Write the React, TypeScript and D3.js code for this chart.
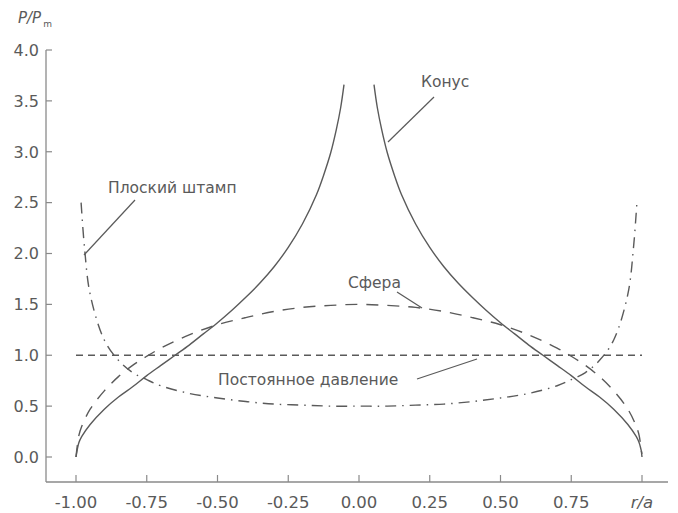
import * as d3 from "d3";
import React, {useEffect, useRef} from "react";

// r/a positions and P/Pm values
const coneLeftR = [-1.0, -0.99, -0.98, -0.95, -0.9, -0.85, -0.8, -0.75, -0.7, -0.65, -0.6, -0.55, -0.5, -0.45, -0.4, -0.35, -0.3, -0.25, -0.2, -0.15, -0.125, -0.1, -0.08, -0.065, -0.053];
const coneLeftP = [0.0, 0.14, 0.2, 0.32, 0.47, 0.59, 0.69, 0.8, 0.9, 1.0, 1.1, 1.21, 1.32, 1.44, 1.57, 1.71, 1.87, 2.06, 2.29, 2.58, 2.77, 2.99, 3.22, 3.43, 3.66];
const coneRightR = [0.053, 0.065, 0.08, 0.1, 0.125, 0.15, 0.2, 0.25, 0.3, 0.35, 0.4, 0.45, 0.5, 0.55, 0.6, 0.65, 0.7, 0.75, 0.8, 0.85, 0.9, 0.95, 0.98, 0.99, 1.0];
const coneRightP = [3.66, 3.43, 3.22, 2.99, 2.77, 2.58, 2.29, 2.06, 1.87, 1.71, 1.57, 1.44, 1.32, 1.21, 1.1, 1.0, 0.9, 0.8, 0.69, 0.59, 0.47, 0.32, 0.2, 0.14, 0.03];

const sphereR = [-1.0, -0.99, -0.98, -0.95, -0.9, -0.85, -0.8, -0.75, -0.7, -0.6, -0.5, -0.4, -0.3, -0.2, -0.1, 0.0, 0.1, 0.2, 0.3, 0.4, 0.5, 0.6, 0.7, 0.75, 0.8, 0.85, 0.9, 0.95, 0.98, 0.99, 1.0];
const sphereP = [0.0, 0.21, 0.3, 0.47, 0.65, 0.79, 0.9, 0.99, 1.07, 1.2, 1.3, 1.37, 1.43, 1.47, 1.49, 1.5, 1.49, 1.47, 1.43, 1.37, 1.3, 1.2, 1.07, 0.99, 0.9, 0.79, 0.65, 0.47, 0.3, 0.21, 0.0];

const punchR = [-0.982, -0.97, -0.95, -0.9, -0.85, -0.8, -0.75, -0.7, -0.6, -0.5, -0.4, -0.3, -0.2, -0.1, 0.0, 0.1, 0.2, 0.3, 0.4, 0.5, 0.6, 0.7, 0.75, 0.8, 0.85, 0.9, 0.95, 0.97, 0.982];
const punchP = [2.5, 2.06, 1.6, 1.15, 0.95, 0.83, 0.76, 0.7, 0.625, 0.58, 0.545, 0.52, 0.51, 0.5, 0.5, 0.5, 0.51, 0.52, 0.545, 0.58, 0.625, 0.7, 0.76, 0.83, 0.95, 1.15, 1.6, 2.06, 2.5];

const constR = [-1.0, 1.0];
const constP = [1.0, 1.0];

const xTicks = [-1.0, -0.75, -0.5, -0.25, 0.0, 0.25, 0.5, 0.75, 1.0];
const yTicks = [0.0, 0.5, 1.0, 1.5, 2.0, 2.5, 3.0, 3.5, 4.0];

const INK = "#5a5a5a";
const FONT = "'DejaVu Sans', Arial, sans-serif";

const App: React.FC = () => {
  const svgRef = useRef<SVGSVGElement | null>(null);

  useEffect(() => {
    if (!svgRef.current) {
      return
    }
    const svg = d3.select(svgRef.current);
    svg.selectAll("*").remove();

    const x = d3.scaleLinear().domain([-1, 1]).range([76, 642]);
    const y = d3.scaleLinear().domain([0, 4]).range([457, 50]);
    const axisX = 46;
    const axisY = 482;

    const line = d3.line<[number, number]>()
      .x(d => x(d[0]))
      .y(d => y(d[1]))
      .curve(d3.curveCatmullRom.alpha(0.5));

    const zip = (rs: number[], ps: number[]) => rs.map((r, i) => [r, ps[i]] as [number, number]);

    // axes
    svg.append("line")
      .attr("x1", axisX).attr("x2", 668)
      .attr("y1", axisY).attr("y2", axisY)
      .attr("stroke", "#8a8a8a").attr("stroke-width", 1.3);
    svg.append("line")
      .attr("x1", axisX).attr("x2", axisX)
      .attr("y1", y(4)).attr("y2", axisY)
      .attr("stroke", "#8a8a8a").attr("stroke-width", 1.3);

    svg.selectAll(".xtick")
      .data(xTicks)
      .enter().append("line")
      .attr("x1", d => x(d)).attr("x2", d => x(d))
      .attr("y1", axisY).attr("y2", axisY - 7)
      .attr("stroke", "#8a8a8a").attr("stroke-width", 1.2);

    svg.selectAll(".xlabel")
      .data(xTicks.filter(d => d < 1))
      .enter().append("text")
      .attr("x", d => x(d))
      .attr("y", 508)
      .attr("text-anchor", "middle")
      .attr("font-family", FONT)
      .attr("font-size", 16.5)
      .attr("fill", INK)
      .text(d => d3.format(".2f")(d).replace("−", "-"));

    svg.append("text")
      .attr("x", x(1))
      .attr("y", 508)
      .attr("text-anchor", "middle")
      .attr("font-family", FONT)
      .attr("font-style", "italic")
      .attr("font-size", 16.5)
      .attr("fill", INK)
      .text("r/a");

    svg.selectAll(".ytick")
      .data(yTicks)
      .enter().append("line")
      .attr("x1", axisX).attr("x2", axisX + 6)
      .attr("y1", d => y(d)).attr("y2", d => y(d))
      .attr("stroke", "#8a8a8a").attr("stroke-width", 1.2);

    svg.selectAll(".ylabel")
      .data(yTicks)
      .enter().append("text")
      .attr("x", 39)
      .attr("y", d => y(d))
      .attr("dy", "0.36em")
      .attr("text-anchor", "end")
      .attr("font-family", FONT)
      .attr("font-size", 16)
      .attr("fill", INK)
      .text(d => d3.format(".1f")(d));

    const title = svg.append("text")
      .attr("x", 18)
      .attr("y", 23)
      .attr("font-family", FONT)
      .attr("font-style", "italic")
      .attr("font-size", 15)
      .attr("fill", INK);
    title.append("tspan").text("P/P");
    title.append("tspan")
      .attr("font-size", 9)
      .attr("font-style", "normal")
      .attr("dx", 2)
      .attr("dy", 4)
      .text("m");

    // curves
    const curves: { pts: [number, number][], dash: string | null }[] = [
      { pts: zip(coneLeftR, coneLeftP), dash: null },
      { pts: zip(coneRightR, coneRightP), dash: null },
      { pts: zip(sphereR, sphereP), dash: "12 9" },
      { pts: zip(punchR, punchP), dash: "11 6 1.5 6" },
      { pts: zip(constR, constP), dash: "7 5" },
    ];

    svg.selectAll(".curve")
      .data(curves)
      .enter().append("path")
      .attr("d", d => line(d.pts))
      .attr("fill", "none")
      .attr("stroke", INK)
      .attr("stroke-width", 1.4)
      .attr("stroke-dasharray", d => d.dash);

    // labels with leader lines
    const notes = [
      { text: "Конус", tx: 421, ty: 87, x1: 434, y1: 97, x2: 388, y2: 142 },
      { text: "Плоский штамп", tx: 108, ty: 193, x1: 135, y1: 200, x2: 84, y2: 255 },
      { text: "Сфера", tx: 348, ty: 288, x1: 397, y1: 292, x2: 422, y2: 308 },
      { text: "Постоянное давление", tx: 218, ty: 385, x1: 417, y1: 379, x2: 477, y2: 359 },
    ];

    svg.selectAll(".note")
      .data(notes)
      .enter().append("text")
      .attr("x", d => d.tx)
      .attr("y", d => d.ty)
      .attr("font-family", FONT)
      .attr("font-size", 15.5)
      .attr("fill", INK)
      .text(d => d.text);

    svg.selectAll(".leader")
      .data(notes)
      .enter().append("line")
      .attr("x1", d => d.x1).attr("y1", d => d.y1)
      .attr("x2", d => d.x2).attr("y2", d => d.y2)
      .attr("stroke", INK)
      .attr("stroke-width", 1.2);
  }, []);

  return (
    <svg
      ref={svgRef}
      width={678}
      height={513}
      style={{ position: "absolute", left: 0, top: 0, background: "#fff" }}
    />
  );
}

export default App;
